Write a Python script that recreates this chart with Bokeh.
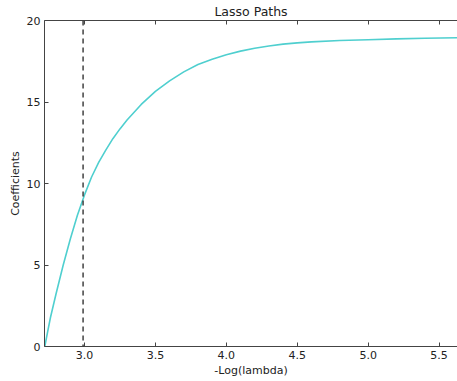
from bokeh.plotting import figure
from bokeh.models import Range1d, LinearAxis, Span, FixedTicker, PrintfTickFormatter
from bokeh.embed import file_html
from bokeh.resources import INLINE

# data
neg_log_lambda = [2.72, 2.74, 2.76, 2.80, 2.85, 2.90, 2.95, 3.00, 3.05, 3.10, 3.15, 3.20,
                  3.25, 3.30, 3.40, 3.50, 3.60, 3.70, 3.80, 3.90, 4.00, 4.10, 4.20, 4.30,
                  4.40, 4.50, 4.60, 4.80, 5.00, 5.20, 5.40, 5.63]
coefficients = [0.0, 0.9, 1.78, 3.25, 5.0, 6.6, 8.05, 9.3, 10.4, 11.3, 12.05, 12.75,
                13.35, 13.9, 14.85, 15.65, 16.3, 16.85, 17.3, 17.62, 17.9, 18.12, 18.3, 18.44,
                18.55, 18.63, 18.69, 18.77, 18.82, 18.87, 18.91, 18.94]
chosen_alpha = 2.99
x_ticks = [3.0, 3.5, 4.0, 4.5, 5.0, 5.5]
y_ticks = [0, 5, 10, 15, 20]
title_text = "Lasso Paths"
x_min, x_max = 2.718, 5.63
y_min, y_max = 0, 20

FONT = "DejaVu Sans"
AX = "#444444"

p = figure(width=457, height=381, output_backend="svg", toolbar_location=None,
           x_range=Range1d(x_min, x_max), y_range=Range1d(y_min, y_max),
           title=title_text, x_axis_label="-Log(lambda)", y_axis_label="Coefficients",
           min_border_left=44, min_border_right=0, min_border_top=20, min_border_bottom=35)
p.background_fill_color = "white"
p.outline_line_color = None
p.grid.visible = False

p.title.align = "center"
p.title.vertical_align = "top"
p.title.text_font = FONT
p.title.text_font_size = "12.5px"
p.title.text_font_style = "normal"
p.title.text_color = "#222222"
p.title.standoff = 0
p.title.offset = 0

for ax in (p.xaxis[0], p.yaxis[0]):
    ax.axis_line_color = AX
    ax.major_tick_line_color = AX
    ax.minor_tick_line_color = None
    ax.major_tick_in = 4
    ax.major_tick_out = 0
    ax.major_label_text_font = FONT
    ax.major_label_text_font_size = "11px"
    ax.major_label_text_color = "#222222"
    ax.axis_label_text_font = FONT
    ax.axis_label_text_font_size = "11px"
    ax.axis_label_text_font_style = "normal"
    ax.axis_label_text_color = "#222222"
    ax.major_label_standoff = 4
    ax.axis_label_standoff = 2

p.xaxis[0].ticker = FixedTicker(ticks=x_ticks)
p.xaxis[0].formatter = PrintfTickFormatter(format="%.1f")
p.yaxis[0].ticker = FixedTicker(ticks=y_ticks)

top = LinearAxis(ticker=FixedTicker(ticks=x_ticks), major_label_text_font_size="0px",
                 axis_line_color=AX, major_tick_line_color=AX, minor_tick_line_color=None,
                 major_tick_in=4, major_tick_out=0, major_label_standoff=0)
p.add_layout(top, "above")

p.line(neg_log_lambda, coefficients, line_color="#4fcfcf", line_width=1.6)
p.add_layout(Span(location=chosen_alpha, dimension="height", line_color="#333333",
                  line_dash="5 4", line_width=1.4))

open("out.html", "w").write(file_html(p, INLINE))
